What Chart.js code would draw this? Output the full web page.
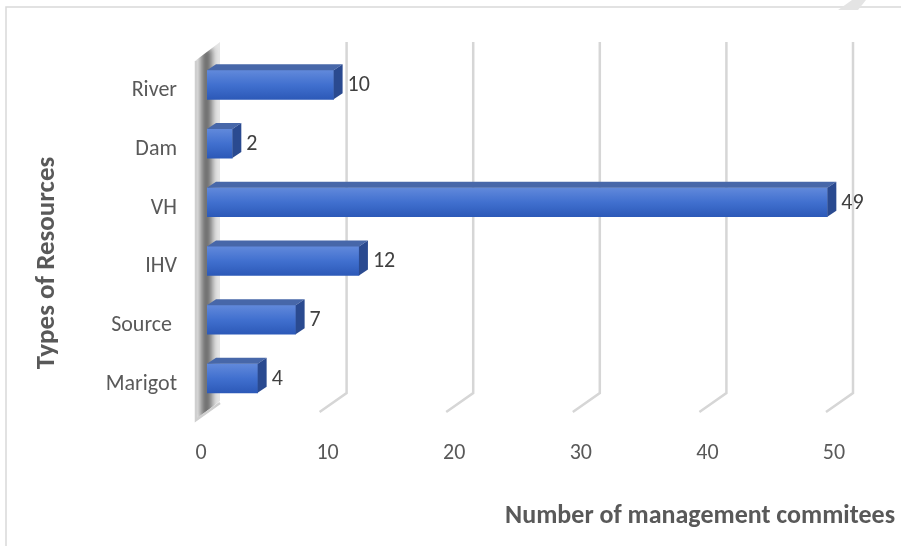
<!DOCTYPE html>
<html>
<head>
<meta charset="utf-8">
<script src="https://cdn.jsdelivr.net/npm/chart.js@4"></script>
<style>
  html, body { margin: 0; padding: 0; background: #ffffff; }
  #c { display: block; }
</style>
</head>
<body>
<canvas id="c" width="901" height="546"></canvas>
<script>
const categories = ["River", "Dam", "VH", "IHV", "Source ", "Marigot"];
const committees = [10, 2, 49, 12, 7, 4];
const xTicks = [0, 10, 20, 30, 40, 50];
const yTitle = "Types of Resources";
const xTitle = "Number of management commitees";

const FONT = "Carlito, Calibri, Lato, sans-serif";
const DEPTH_X = 27, DEPTH_Y = 19;   // full 3D depth of the plot
const BAR_DX = 9, BAR_DY = 6;       // depth of each bar
const BACK_DX = 13;                 // offset of back wall from bar plane
const BAR_H = 29;

const deco = {
  id: 'deco',
  beforeDatasetsDraw(chart) {
    const ctx = chart.ctx;
    const xs = chart.scales.x;
    const topY = 42, backBottom = 393;
    ctx.save();
    // outer frame
    ctx.strokeStyle = '#d9d9d9';
    ctx.lineWidth = 1.5;
    ctx.beginPath();
    ctx.moveTo(901, 7); ctx.lineTo(6, 7); ctx.lineTo(6, 546);
    ctx.stroke();
    ctx.fillStyle = '#e4e4e4';
    ctx.beginPath();
    ctx.moveTo(838, 10); ctx.lineTo(852, 0); ctx.lineTo(866, 0); ctx.lineTo(858, 10);
    ctx.closePath(); ctx.fill();

    // left wall
    const x0 = xs.getPixelForValue(0) + BACK_DX;
    const wall = new Path2D();
    wall.moveTo(x0, topY);
    wall.lineTo(x0, backBottom + 8);
    wall.lineTo(x0 - DEPTH_X + 2, backBottom + DEPTH_Y + 8);
    wall.lineTo(x0 - DEPTH_X + 2, topY + DEPTH_Y);
    wall.closePath();
    ctx.fillStyle = '#e6e6e6';
    ctx.fill(wall);
    ctx.save();
    ctx.clip(wall);
    ctx.filter = 'blur(3px)';
    ctx.fillStyle = '#6a6a6a';
    ctx.fillRect(x0 - 19, topY + 6, 11, backBottom - topY + 20);
    ctx.filter = 'none';
    ctx.restore();
    ctx.strokeStyle = '#cfcfcf';
    ctx.lineWidth = 2.5;
    ctx.beginPath();
    ctx.moveTo(x0 - DEPTH_X + 3, topY + DEPTH_Y);
    ctx.lineTo(x0 - DEPTH_X + 3, backBottom + DEPTH_Y + 8);
    ctx.lineTo(x0, backBottom + 10);
    ctx.stroke();

    // grid lines (back wall + floor diagonal)
    ctx.strokeStyle = '#d6d6d6';
    ctx.lineWidth = 2.5;
    xs.ticks.forEach(t => {
      if (t.value === 0) return;
      const xb = xs.getPixelForValue(t.value) + BACK_DX;
      ctx.beginPath();
      ctx.moveTo(xb, topY);
      ctx.lineTo(xb, backBottom);
      ctx.lineTo(xb - DEPTH_X, backBottom + DEPTH_Y);
      ctx.stroke();
    });

    // axis titles
    ctx.fillStyle = '#595959';
    ctx.font = 'bold 26px ' + FONT;
    ctx.textAlign = 'right';
    ctx.textBaseline = 'middle';
    ctx.fillText(xTitle, 895, 516);
    ctx.translate(47, 263);
    ctx.rotate(-Math.PI / 2);
    ctx.textAlign = 'center';
    ctx.font = 'bold 27px ' + FONT;
    ctx.fillText(yTitle, 0, 0);
    ctx.restore();
  },
  afterDatasetsDraw(chart) {
    const ctx = chart.ctx;
    const meta = chart.getDatasetMeta(0);
    ctx.save();
    meta.data.forEach((bar, i) => {
      const p = bar.getProps(['x', 'y', 'base', 'height'], true);
      const top = p.y - p.height / 2, bottom = p.y + p.height / 2;
      // top face
      ctx.fillStyle = '#4767a9';
      ctx.beginPath();
      ctx.moveTo(p.base, top);
      ctx.lineTo(p.x, top);
      ctx.lineTo(p.x + BAR_DX, top - BAR_DY);
      ctx.lineTo(p.base + BAR_DX, top - BAR_DY);
      ctx.closePath(); ctx.fill();
      // side face
      ctx.fillStyle = '#2a4a90';
      ctx.beginPath();
      ctx.moveTo(p.x, top);
      ctx.lineTo(p.x + BAR_DX, top - BAR_DY);
      ctx.lineTo(p.x + BAR_DX, bottom - BAR_DY);
      ctx.lineTo(p.x, bottom);
      ctx.closePath(); ctx.fill();
      // value label
      ctx.fillStyle = '#404040';
      ctx.font = '22px ' + FONT;
      ctx.textAlign = 'left';
      ctx.textBaseline = 'middle';
      ctx.fillText(String(committees[i]), p.x + 14, p.y + 1);
    });
    ctx.restore();
  }
};

new Chart(document.getElementById('c'), {
  type: 'bar',
  data: {
    labels: categories,
    datasets: [{
      data: committees,
      barThickness: BAR_H,
      borderWidth: 0,
      backgroundColor(context) {
        const chart = context.chart;
        const ys = chart.scales && chart.scales.y;
        if (!chart.chartArea || !ys) return '#3f6bc9';
        const y = ys.getPixelForValue(context.dataIndex);
        if (!Number.isFinite(y)) return '#3f6bc9';
        const g = chart.ctx.createLinearGradient(0, y - BAR_H / 2, 0, y + BAR_H / 2);
        g.addColorStop(0, '#6189db');
        g.addColorStop(0.5, '#4170cf');
        g.addColorStop(1, '#2c59b8');
        return g;
      }
    }]
  },
  options: {
    indexAxis: 'y',
    responsive: false,
    devicePixelRatio: 1,
    animation: false,
    layout: { padding: { top: 55.5, right: 61, bottom: 0, left: 0 } },
    plugins: { legend: { display: false }, tooltip: { enabled: false } },
    scales: {
      x: {
        min: 0, max: 50,
        afterBuildTicks(scale) { scale.ticks = xTicks.map(v => ({ value: v })); },
        afterFit(scale) { scale.height = 546 - 55.5 - 352.2; },
        grid: { display: false },
        border: { display: false },
        ticks: { color: '#595959', font: { family: FONT, size: 22 }, padding: 25, labelOffset: -6 }
      },
      y: {
        afterFit(scale) { scale.width = 207; },
        grid: { display: false },
        border: { display: false },
        ticks: { color: '#595959', font: { family: FONT, size: 22 }, padding: 22, labelOffset: 6 }
      }
    }
  },
  plugins: [deco]
});
</script>
</body>
</html>
